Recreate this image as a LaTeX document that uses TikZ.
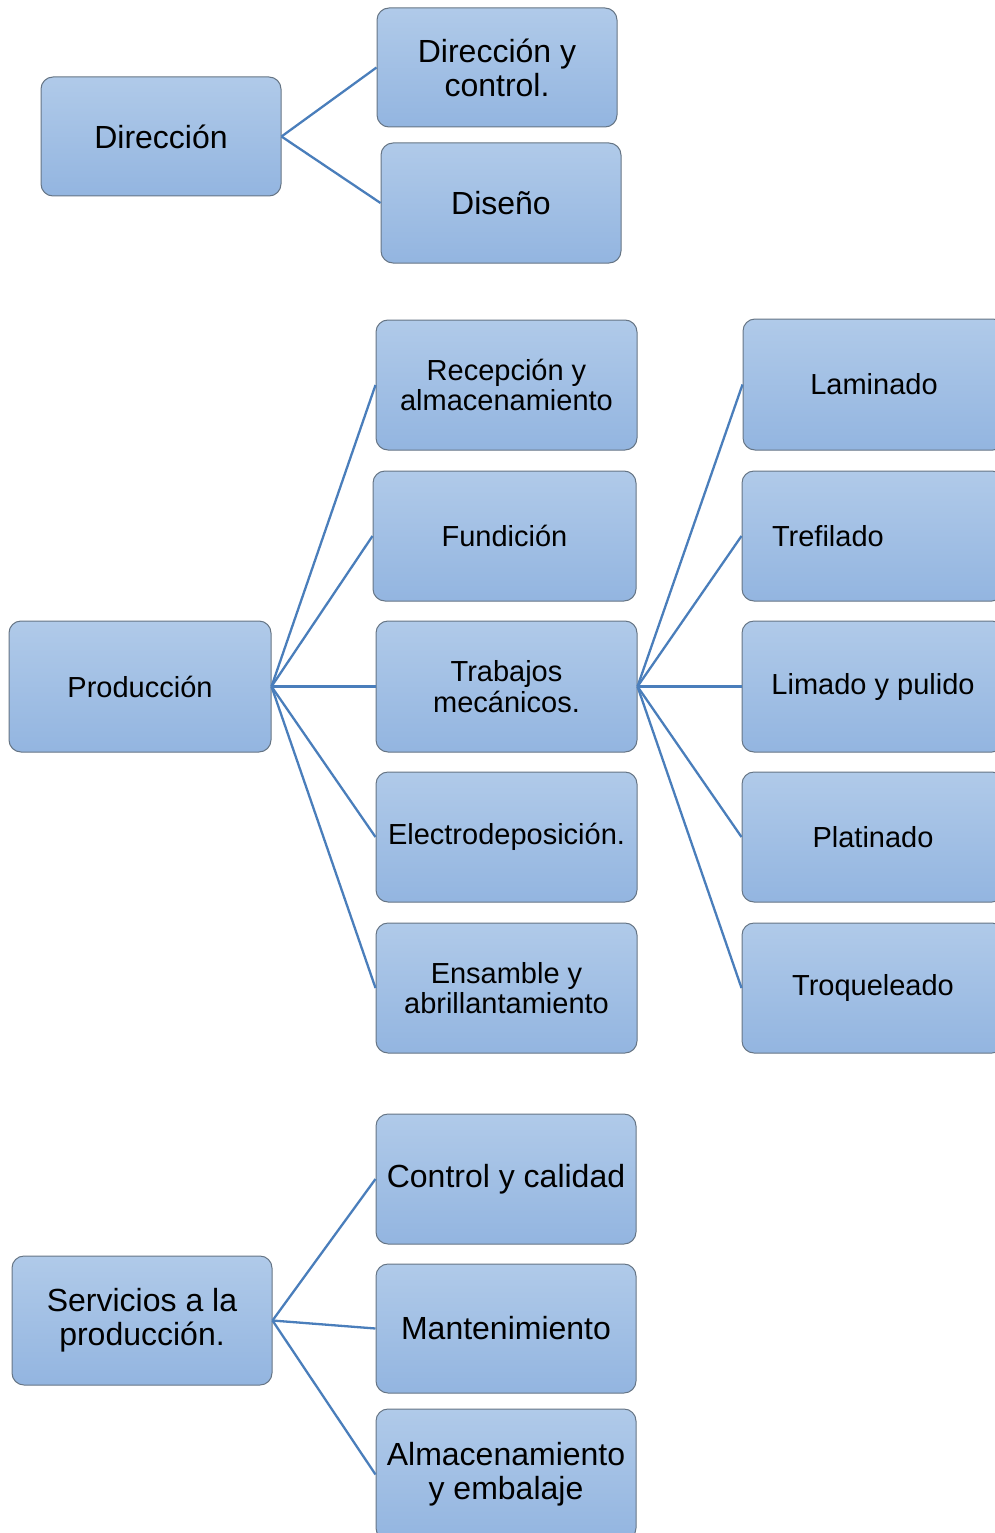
\documentclass[tikz,border=0pt]{standalone}
\usepackage{fontspec}
\setmainfont{Liberation Sans}
\definecolor{boxtop}{HTML}{B0CAE9}
\definecolor{boxbot}{HTML}{93B5E0}
\definecolor{boxline}{HTML}{667585}
\definecolor{conn}{HTML}{4A7EBB}
\newcommand\bigtxt{\fontsize{32}{34}\selectfont}
\newcommand\midtxt{\fontsize{29}{30.5}\selectfont}
\tikzset{
  box/.style={draw=boxline, line width=1pt, rounded corners=12pt,
    top color=boxtop, bottom color=boxbot, align=center, inner sep=0pt},
  bigbox/.style={box, font=\bigtxt},
  midbox/.style={box, font=\midtxt},
  conline/.style={draw=conn, line width=2.3pt}
}
\begin{document}
\begin{tikzpicture}[x=1pt,y=-1pt]
\useasboundingbox (0,0) rectangle (995,1533);
\clip (0,0) rectangle (995,1533);
% top group
\node[bigbox, minimum width=240pt, minimum height=119pt] (dir) at (161,136.5) {Dirección};
\node[bigbox, minimum width=240pt, minimum height=119pt] (dc) at (497,67.5) {Dirección y\\control.};
\node[bigbox, minimum width=240pt, minimum height=120pt] (dis) at (501,203) {Diseño};
% middle group
\node[midbox, minimum width=262pt, minimum height=131pt] (pro) at (140,686.5) {Producción};
\node[midbox, minimum width=261pt, minimum height=130pt] (rec) at (506.5,385) {Recepción y\\almacenamiento};
\node[midbox, minimum width=263pt, minimum height=130pt] (fun) at (504.5,536) {Fundición};
\node[midbox, minimum width=261pt, minimum height=131pt] (tra) at (506.5,686.5) {Trabajos\\mecánicos.};
\node[midbox, minimum width=261pt, minimum height=130pt] (ele) at (506.5,837) {Electrodeposición.};
\node[midbox, minimum width=261pt, minimum height=130pt] (ens) at (506.5,988) {Ensamble y\\abrillantamiento};
\node[midbox, minimum width=262pt, minimum height=131pt] (lam) at (874,384.5) {Laminado};
\node[midbox, minimum height=130pt, text width=202pt, inner xsep=30pt, align=left] (tre) at (873,536) {Trefilado};
\node[midbox, minimum width=262pt, minimum height=131pt] (lim) at (873,686.5) {Limado y pulido};
\node[midbox, minimum width=262pt, minimum height=130pt] (pla) at (873,837) {Platinado};
\node[midbox, minimum width=262pt, minimum height=130pt] (tro) at (873,988) {Troqueleado};
% bottom group
\node[bigbox, minimum width=260pt, minimum height=129pt] (ser) at (142,1320.5) {Servicios a la\\producción.};
\node[bigbox, minimum width=260pt, minimum height=130pt] (cc) at (506,1179) {Control y calidad};
\node[bigbox, minimum width=260pt, minimum height=129pt] (man) at (506,1328.5) {Mantenimiento};
\node[bigbox, minimum width=260pt, minimum height=131pt] (alm) at (506,1474.5) {Almacenamiento\\y embalaje};
% connectors
\draw[conline] (dir.east) -- (dc.west);
\draw[conline] (dir.east) -- (dis.west);
\foreach \c in {rec,fun,tra,ele,ens} \draw[conline] (pro.east) -- (\c.west);
\foreach \c in {lam,tre,lim,pla,tro} \draw[conline] (tra.east) -- (\c.west);
\foreach \c in {cc,man,alm} \draw[conline] (ser.east) -- (\c.west);
\end{tikzpicture}
\end{document}
